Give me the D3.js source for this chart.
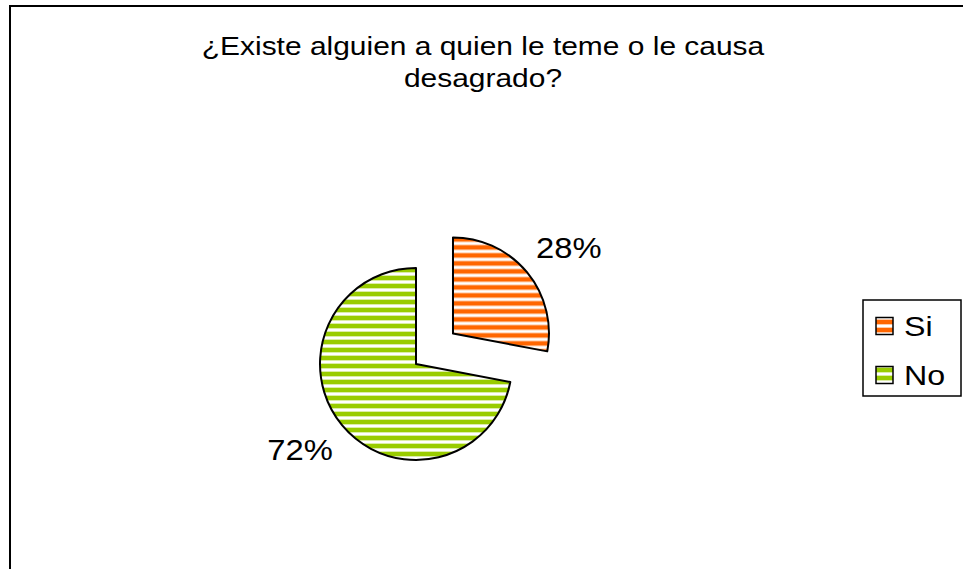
<!DOCTYPE html>
<html><head><meta charset="utf-8">
<script src="https://cdn.jsdelivr.net/npm/d3@7"></script>
<style>body{margin:0;background:#fff;}svg{display:block;font-family:"Liberation Sans",Arial,sans-serif;}</style>
</head><body>
<svg id="c" width="963" height="569"></svg>
<script>
const categories = ["Si", "No"];
const values = [28, 72];
const colors = ["#FF6600", "#99CC00"];
const titleLines = ["¿Existe alguien a quien le teme o le causa", "desagrado?"];

const SX = 1.13; // horizontal text stretch
const svg = d3.select("#c");
const defs = svg.append("defs");
colors.forEach((c, i) => {
  const p = defs.append("pattern").attr("id", "pat" + i)
    .attr("patternUnits", "userSpaceOnUse").attr("width", 8).attr("height", 8);
  p.append("rect").attr("width", 8).attr("height", 8).attr("fill", "#fff");
  p.append("rect").attr("y", 0).attr("width", 8).attr("height", 4).attr("fill", c);
  p.append("rect").attr("y", 4).attr("width", 8).attr("height", 1).attr("fill", c).attr("opacity", 0.35);
  p.append("rect").attr("y", 7).attr("width", 8).attr("height", 1).attr("fill", c).attr("opacity", 0.35);
});

function addText(parent, x, y, str, size, anchor) {
  return parent.append("g").attr("transform", `translate(${x},${y}) scale(${SX},1)`)
    .append("text").attr("text-anchor", anchor).attr("font-size", size).attr("fill", "#000").text(str);
}

// chart border
svg.append("rect").attr("x", 10).attr("y", 6).attr("width", 1000).attr("height", 600)
  .attr("fill", "none").attr("stroke", "#000").attr("stroke-width", 2);

// title
titleLines.forEach((t, i) => addText(svg, 483, 55 + i * 32, t, 26.5, "middle"));

const cx = 416, cy = 364, r = 96, explode = 48;
const pie = d3.pie().sort(null).value(d => d)(values);
const arc = d3.arc().innerRadius(0).outerRadius(r);
const total = d3.sum(values);
const g = svg.append("g").attr("transform", `translate(${cx},${cy})`);
pie.forEach((d, i) => {
  const mid = (d.startAngle + d.endAngle) / 2;
  const off = i === 0 ? explode : 0;
  const ox = Math.sin(mid) * off, oy = -Math.cos(mid) * off;
  const sg = g.append("g").attr("transform", `translate(${ox},${oy})`);
  sg.append("path").attr("d", arc(d)).attr("fill", `url(#pat${i})`)
    .attr("stroke", "#000").attr("stroke-width", 2).attr("stroke-linejoin", "round");
  const lr = r * 1.5, la = mid + 0.056;
  addText(sg, Math.sin(la) * lr, -Math.cos(la) * lr + 10.5,
    Math.round(d.data / total * 100) + "%", 29, "middle");
});

// legend
const lg = svg.append("g");
lg.append("rect").attr("x", 863).attr("y", 300).attr("width", 98).attr("height", 96)
  .attr("fill", "#fff").attr("stroke", "#000").attr("stroke-width", 1.5);
categories.forEach((c, i) => {
  const y = 326 + i * 49;
  lg.append("rect").attr("x", 876).attr("y", y - 8.5).attr("width", 17).attr("height", 17)
    .attr("fill", `url(#pat${i})`).attr("stroke", "#000").attr("stroke-width", 1.5);
  addText(lg, 904, y + 10, c, 28.5, "start");
});
</script>
</body></html>
